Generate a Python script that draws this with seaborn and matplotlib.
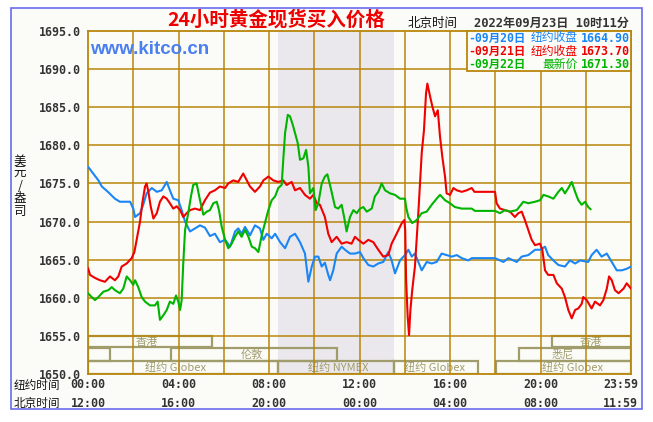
import pandas as pd
import seaborn as sns
import matplotlib.pyplot as plt
from matplotlib.patches import Rectangle

# =====================
# Data (NY time in hours, price USD/oz)
# =====================
blue_hours = [0.00, 0.46, 0.61, 0.88, 1.19, 1.41, 1.64, 1.86, 2.00, 2.08, 2.30, 2.44, 2.59, 2.82,
              3.04, 3.26, 3.48, 3.62, 3.77, 3.99, 4.14, 4.29, 4.51, 4.73, 4.95, 5.17, 5.39, 5.61,
              5.83, 6.06, 6.28, 6.50, 6.64, 6.79, 6.94, 7.16, 7.38, 7.60, 7.75, 7.90, 8.12, 8.27,
              8.49, 8.71, 8.93, 9.15, 9.37, 9.59, 9.74, 9.89, 10.03, 10.18, 10.33, 10.47, 10.62,
              10.70, 10.84, 10.99, 11.21, 11.36, 11.58, 11.80, 12.02, 12.17, 12.39, 12.61, 12.83,
              13.05, 13.27, 13.42, 13.57, 13.79, 14.01, 14.16, 14.31, 14.45, 14.60, 14.75, 14.97,
              15.19, 15.41, 15.63, 15.85, 16.08, 16.30, 16.52, 16.81, 16.96, 17.99, 18.36, 18.58,
              18.95, 19.17, 19.46, 19.76, 19.98, 20.20, 20.34, 20.57, 20.79, 21.08, 21.30, 21.53,
              21.75, 22.11, 22.26, 22.48, 22.70, 22.93, 23.15, 23.37, 23.59, 23.81, 24.00]
blue_price = [1677.2, 1675.4, 1674.6, 1673.9, 1673.0, 1672.6, 1672.6, 1672.6, 1671.7, 1670.6, 1671.1,
              1672.2, 1673.7, 1674.4, 1673.9, 1674.1, 1675.2, 1674.1, 1673.0, 1672.8, 1671.5, 1670.0,
              1668.7, 1669.1, 1669.5, 1669.2, 1668.1, 1668.4, 1667.3, 1667.6, 1666.7, 1668.7, 1669.1,
              1668.4, 1669.3, 1668.2, 1669.5, 1669.1, 1667.6, 1668.4, 1667.8, 1668.4, 1667.3, 1666.5,
              1668.0, 1668.4, 1667.3, 1665.8, 1662.1, 1664.1, 1665.4, 1665.4, 1664.1, 1664.6, 1663.0,
              1662.3, 1663.6, 1665.8, 1666.7, 1666.3, 1665.8, 1665.8, 1666.0, 1665.2, 1664.3, 1664.1,
              1664.5, 1664.7, 1666.0, 1664.9, 1663.2, 1664.9, 1665.6, 1666.3, 1665.4, 1665.8, 1664.7,
              1663.6, 1664.7, 1664.5, 1664.7, 1665.8, 1665.6, 1665.4, 1665.6, 1665.2, 1664.9, 1665.2,
              1665.2, 1664.7, 1665.2, 1664.7, 1665.4, 1665.6, 1666.3, 1666.3, 1666.7, 1665.6, 1664.9,
              1664.3, 1664.1, 1664.9, 1664.5, 1664.9, 1664.7, 1665.6, 1666.3, 1665.4, 1665.8, 1664.7,
              1663.6, 1663.6, 1663.8, 1664.1]

red_hours = [0.00, 0.09, 0.31, 0.53, 0.75, 0.97, 1.19, 1.34, 1.49, 1.71, 1.93, 2.05, 2.15, 2.30,
             2.40, 2.52, 2.59, 2.67, 2.77, 2.89, 3.04, 3.18, 3.33, 3.48, 3.62, 3.77, 3.92, 4.07,
             4.21, 4.36, 4.51, 4.73, 4.95, 5.17, 5.39, 5.61, 5.83, 6.06, 6.20, 6.42, 6.64, 6.86,
             7.02, 7.16, 7.38, 7.60, 7.75, 7.97, 8.19, 8.41, 8.63, 8.78, 9.00, 9.15, 9.37, 9.59,
             9.81, 9.96, 10.11, 10.25, 10.40, 10.47, 10.62, 10.77, 10.99, 11.21, 11.43, 11.65,
             11.80, 11.95, 12.17, 12.39, 12.61, 12.83, 13.05, 13.27, 13.42, 13.64, 13.87, 13.98,
             14.02, 14.06, 14.13, 14.19, 14.25, 14.33, 14.45, 14.60, 14.75, 14.85, 14.94, 15.00,
             15.12, 15.22, 15.34, 15.46, 15.56, 15.66, 15.78, 15.85, 16.00, 16.15, 16.30, 16.52,
             16.74, 16.96, 17.08, 17.99, 18.06, 18.21, 18.43, 18.65, 18.87, 19.02, 19.17, 19.31,
             19.46, 19.61, 19.76, 19.98, 20.08, 20.20, 20.34, 20.57, 20.72, 20.94, 21.08, 21.23,
             21.38, 21.53, 21.67, 21.82, 21.89, 22.04, 22.26, 22.41, 22.63, 22.78, 22.93, 23.03,
             23.15, 23.29, 23.45, 23.67, 23.81, 24.00]
red_price = [1663.9, 1663.0, 1662.6, 1662.3, 1662.1, 1662.8, 1662.3, 1662.8, 1664.1, 1664.5, 1665.2,
             1666.0, 1667.6, 1670.0, 1672.4, 1674.6, 1675.0, 1673.9, 1672.0, 1670.4, 1671.1, 1672.6,
             1673.3, 1673.0, 1672.4, 1671.7, 1672.0, 1671.5, 1670.6, 1671.1, 1671.5, 1671.7, 1671.5,
             1672.8, 1673.8, 1674.1, 1674.6, 1674.4, 1675.0, 1675.4, 1675.2, 1676.3, 1675.4, 1674.6,
             1673.9, 1674.6, 1675.4, 1675.9, 1675.4, 1675.2, 1675.4, 1674.8, 1675.2, 1674.1, 1674.4,
             1673.5, 1673.0, 1673.5, 1672.4, 1672.2, 1671.1, 1670.6, 1668.4, 1667.3, 1668.0, 1667.1,
             1667.3, 1667.1, 1668.0, 1667.6, 1667.1, 1667.6, 1667.3, 1666.3, 1665.4, 1665.6, 1667.1,
             1668.4, 1669.8, 1670.2, 1668.9, 1662.3, 1657.5, 1655.1, 1658.4, 1661.0, 1664.1, 1671.1,
             1679.0, 1682.0, 1686.8, 1688.1, 1686.4, 1685.1, 1683.8, 1684.6, 1681.1, 1678.5, 1675.9,
             1673.7, 1673.5, 1674.4, 1674.1, 1673.9, 1674.1, 1674.4, 1673.9, 1673.9, 1672.4, 1671.7,
             1671.5, 1671.3, 1670.6, 1671.1, 1671.3, 1670.2, 1668.9, 1667.6, 1666.9, 1667.1, 1666.3,
             1663.6, 1663.0, 1663.0, 1661.9, 1661.2, 1660.1, 1658.4, 1657.3, 1658.4, 1658.6, 1659.2,
             1660.1, 1659.7, 1658.6, 1659.5, 1659.0, 1659.7, 1661.2, 1662.8, 1662.3, 1661.0, 1660.6,
             1661.2, 1661.9, 1661.2]

green_hours = [0.00, 0.16, 0.31, 0.46, 0.68, 0.90, 1.05, 1.19, 1.41, 1.56, 1.71, 1.86, 2.00, 2.08,
               2.22, 2.37, 2.52, 2.74, 2.96, 3.08, 3.18, 3.33, 3.48, 3.62, 3.77, 3.89, 3.99, 4.07,
               4.14, 4.21, 4.29, 4.43, 4.55, 4.65, 4.80, 4.95, 5.10, 5.25, 5.39, 5.54, 5.69, 5.79,
               5.91, 6.06, 6.20, 6.35, 6.50, 6.64, 6.79, 6.94, 7.09, 7.24, 7.38, 7.53, 7.68, 7.82,
               7.97, 8.12, 8.27, 8.41, 8.56, 8.63, 8.71, 8.83, 8.93, 9.05, 9.15, 9.27, 9.37, 9.52,
               9.64, 9.74, 9.81, 9.96, 10.06, 10.18, 10.33, 10.47, 10.58, 10.72, 10.92, 11.06, 11.21,
               11.32, 11.43, 11.58, 11.73, 11.88, 12.02, 12.17, 12.32, 12.54, 12.68, 12.83, 12.98,
               13.13, 13.35, 13.57, 13.79, 14.01, 14.06, 14.16, 14.33, 14.53, 14.75, 14.97, 15.19,
               15.41, 15.56, 15.78, 16.00, 16.22, 16.52, 16.96, 17.10, 17.99, 18.21, 18.43, 18.65,
               18.95, 19.24, 19.46, 19.76, 19.98, 20.13, 20.34, 20.57, 20.79, 20.94, 21.08, 21.23,
               21.38, 21.53, 21.67, 21.82, 21.97, 22.11, 22.22]
green_price = [1660.6, 1660.1, 1659.7, 1660.1, 1660.8, 1661.0, 1661.4, 1661.0, 1660.6, 1661.2, 1662.8,
               1662.3, 1661.7, 1662.3, 1661.4, 1660.1, 1659.5, 1659.0, 1659.0, 1659.5, 1657.1, 1657.7,
               1658.4, 1659.5, 1659.2, 1660.3, 1659.5, 1658.4, 1659.7, 1664.5, 1668.9, 1671.1, 1673.3,
               1674.8, 1675.0, 1672.8, 1670.9, 1671.3, 1671.5, 1672.4, 1672.6, 1671.5, 1669.3, 1667.6,
               1666.5, 1667.1, 1668.0, 1668.7, 1668.0, 1668.9, 1668.0, 1666.7, 1666.5, 1666.0, 1668.2,
               1669.8, 1671.5, 1672.8, 1673.3, 1674.4, 1674.8, 1678.1, 1681.6, 1684.0, 1683.8, 1682.7,
               1681.6, 1680.3, 1678.1, 1678.3, 1679.4, 1677.2, 1673.7, 1674.4, 1671.5, 1672.4, 1675.0,
               1675.9, 1676.2, 1674.5, 1671.9, 1671.7, 1672.2, 1670.6, 1668.7, 1670.6, 1671.5, 1671.1,
               1671.7, 1671.9, 1671.3, 1671.7, 1673.3, 1673.9, 1675.0, 1674.1, 1673.7, 1673.5, 1673.0,
               1673.0, 1671.9, 1670.6, 1669.8, 1670.2, 1671.1, 1671.3, 1672.2, 1673.0, 1673.5, 1672.8,
               1672.4, 1671.9, 1671.7, 1671.7, 1671.4, 1671.4, 1671.1, 1671.5, 1671.3, 1671.5, 1672.6,
               1672.4, 1672.6, 1672.8, 1673.5, 1673.3, 1673.0, 1673.9, 1674.4, 1673.7, 1674.4, 1675.2,
               1673.9, 1672.8, 1672.2, 1672.6, 1671.9, 1671.6]

legend_dates = ['-09月20日', '-09月21日', '-09月22日']
legend_kinds = ['纽约收盘', '纽约收盘', '最新价']
legend_values = ['1664.90', '1673.70', '1671.30']

ny_tick_hours = [0, 4, 8, 12, 16, 20, 23.55]
ny_tick_labels = ['00:00', '04:00', '08:00', '12:00', '16:00', '20:00', '23:59']
bj_tick_labels = ['12:00', '16:00', '20:00', '00:00', '04:00', '08:00', '11:59']

ylabel_chars = ['美', '元', '/', '盎', '司']

# trading sessions (row 0 = HK, 1 = London/Sydney, 2 = New York)
session_names = ['香港', '香港', '', '伦敦', '悉尼', '纽约 Globex', '纽约 NYMEX', '纽约 Globex', '纽约 Globex']
session_start = [0, 20.53, 0, 3.66, 19.06, 0, 8.40, 13.52, 18.02]
session_end = [5.49, 24, 0.97, 10.99, 24, 8.40, 13.52, 17.24, 24]
session_row = [0, 0, 1, 1, 1, 2, 2, 2, 2]
session_label_x = [2.6, 22.2, 0, 7.25, 21.0, 3.85, 11.05, 15.3, 21.4]

nymex_span = (8.40, 13.52)

# =====================
# Style
# =====================
sns.set_style("white")
CJK = ['Noto Sans CJK SC', 'DejaVu Sans']
MONO = ['DejaVu Sans Mono', 'Noto Sans CJK SC']
plt.rcParams['font.family'] = CJK

BG = '#fbfcf8'
GRID = '#b8860b'
SESS = '#a09c6c'
SHADE = '#ebe8ed'
colors = {'blue': '#1a86f5', 'red': '#f00000', 'green': '#00b400'}

W, H = 653, 422
def fx(x):
    return x / W
def fy(y):
    return 1 - y / H

fig = plt.figure(figsize=(W / 100, H / 100), dpi=100)
fig.patch.set_facecolor('white')
fig.add_artist(Rectangle((fx(11), fy(409)), (642 - 11) / W, (409 - 8) / H, transform=fig.transFigure,
                         facecolor=BG, edgecolor='#6b6bee', lw=1.2, zorder=-5))

ax = fig.add_axes([fx(88), fy(374), (631 - 88) / W, (374 - 31) / H])
ax.set_facecolor(BG)
ax.set_xlim(0, 24)
ax.set_ylim(1650, 1695)

ax.axvspan(*nymex_span, color=SHADE, lw=0, zorder=0.5)

for v in range(1655, 1695, 5):
    ax.axhline(v, color=GRID, lw=1.1, zorder=2)
for hh in range(2, 24, 2):
    ax.axvline(hh, color=GRID, lw=1.1, zorder=2)
for s in ax.spines.values():
    s.set_color(GRID)
    s.set_linewidth(1.3)
    s.set_zorder(2.5)

# session boxes
row_bottom = [1653.5, 1651.75, 1650.05]
row_height = [1.5, 1.65, 1.67]
for name, a, b, r, lx in zip(session_names, session_start, session_end, session_row, session_label_x):
    ax.add_patch(Rectangle((a, row_bottom[r]), b - a, row_height[r], fill=False,
                           edgecolor=SESS, lw=1.6, zorder=1))
    if name:
        ax.text(lx, row_bottom[r] + row_height[r] / 2 - 0.05, name, color=SESS, fontsize=8,
                ha='center', va='center', family=CJK, zorder=1.5)

# price lines
for hours, price, c in [(blue_hours, blue_price, 'blue'),
                        (red_hours, red_price, 'red'),
                        (green_hours, green_price, 'green')]:
    df = pd.DataFrame({'hour': hours, 'price': price})
    sns.lineplot(data=df, x='hour', y='price', ax=ax, color=colors[c], lw=1.5,
                 sort=False, estimator=None, zorder=3)

ax.set_xlabel('')
ax.set_ylabel('')
ax.set_xticks([])
ax.set_yticks(range(1650, 1700, 5))
ax.set_yticklabels([f'{v:.1f}' for v in range(1650, 1700, 5)])
ax.tick_params(axis='y', length=0, pad=5, labelcolor='#333333')
for lab in ax.get_yticklabels():
    lab.set_family(MONO)
    lab.set_fontweight('bold')
    lab.set_fontsize(8.4)

# time rows under the axis
xt = ax.get_xaxis_transform()
for hh, ny, bj in zip(ny_tick_hours, ny_tick_labels, bj_tick_labels):
    ax.text(hh, -0.032, ny, transform=xt, ha='center', va='center', family=MONO,
            fontweight='bold', fontsize=8.4, color='#333333')
    ax.text(hh, -0.085, bj, transform=xt, ha='center', va='center', family=MONO,
            fontweight='bold', fontsize=8.4, color='#333333')
fig.text(fx(14), fy(386), '纽约时间', ha='left', va='center', fontsize=8.4, color='#111111')
fig.text(fx(14), fy(404), '北京时间', ha='left', va='center', fontsize=8.4, color='#111111')

# header
fig.text(fx(276), fy(20), '24小时黄金现货买入价格', ha='center', va='center', color='#ee0000',
         fontsize=14, fontweight='bold', family=CJK)
fig.text(fx(408), fy(23), '北京时间', ha='left', va='center', fontsize=9, color='#111111')
fig.text(fx(474), fy(23), '2022年09月23日 10时11分', ha='left', va='center', fontsize=8.7,
         family=MONO, fontweight='bold', color='#333333')
fig.text(fx(90), fy(50), 'www.kitco.cn', ha='left', va='center', color='#4a7ff0', fontsize=13.5,
         fontweight='bold', family=['Liberation Sans', 'DejaVu Sans'], zorder=4)
for i, ch in enumerate(ylabel_chars):
    fig.text(fx(20), fy(161 + 12.5 * i), ch, ha='center', va='center', fontsize=9,
             color='#111111')

# legend box
fig.add_artist(Rectangle((fx(467), fy(71)), (631 - 467) / W, 40 / H, transform=fig.transFigure,
                         facecolor=BG, edgecolor=GRID, lw=1.3, zorder=5))
for yy, d, k, v, c in zip([38, 51.3, 64.7], legend_dates, legend_kinds, legend_values,
                          ['blue', 'red', 'green']):
    fig.text(fx(468), fy(yy), d, ha='left', va='center', fontsize=8.3, family=MONO,
             fontweight='bold', color=colors[c], zorder=6)
    fig.text(fx(578), fy(yy), k, ha='right', va='center', fontsize=8.5, family=CJK,
             color=colors[c], zorder=6)
    fig.text(fx(630), fy(yy), v, ha='right', va='center', fontsize=8.4, family=MONO,
             fontweight='bold', color=colors[c], zorder=6)

fig.savefig('out.png', dpi=100, facecolor='white')
